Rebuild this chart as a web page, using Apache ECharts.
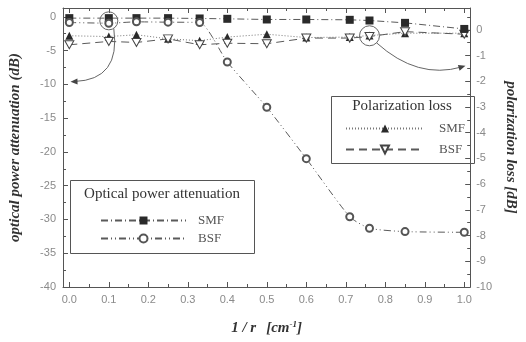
<!DOCTYPE html>
<html><head><meta charset="utf-8">
<script src="https://cdn.jsdelivr.net/npm/echarts@6/dist/echarts.min.js"></script>
<style>html,body{margin:0;padding:0;background:#fff}#c{width:526px;height:342px}</style>
</head><body><div id="c"></div>
<script>
// 1/r [cm^-1]
const xValues   = [0, 0.1, 0.17, 0.25, 0.33, 0.4, 0.5, 0.6, 0.71, 0.76, 0.85, 1.0];
// optical power attenuation (dB), left axis
const opticalSMF = [-0.2, -0.2, -0.2, -0.2, -0.25, -0.3, -0.4, -0.4, -0.45, -0.55, -0.9, -1.8];
const opticalBSF = [-0.85, -0.95, -0.75, -0.8, -0.85, -6.7, -13.4, -21.0, -29.6, -31.3, -31.8, -31.9];
// polarization loss (dB), right axis
const polSMF = [-0.23, -0.26, -0.19, -0.35, -0.42, -0.28, -0.17, -0.3, -0.28, -0.22, -0.13, -0.13];
const polBSF = [-0.58, -0.45, -0.49, -0.35, -0.58, -0.52, -0.54, -0.32, -0.32, -0.26, -0.07, -0.17];
// callouts: circled point -> arrow to axis
const callout1 = {center: [0.1, -0.6], tip: [0.003, -9.6], yAxis: 0};
const callout2 = {center: [0.76, -0.23], tip: [1.003, -1.4], yAxis: 1};

const pair = arr => xValues.map((x, i) => [x, arr[i]]);
const ink = '#444', lineCol = '#5a5a5a', lab = '#8a8a8a';
const serif = '"Liberation Serif", "DejaVu Serif", serif';
const sans = '"Liberation Sans", Arial, sans-serif';
const isMult = (v, step) => Math.abs(v / step - Math.round(v / step)) < 1e-6;

const axisCommon = {
  axisLine: {show: true, onZero: false, lineStyle: {color: '#555', width: 1}},
  axisTick: {show: true, inside: true, length: 5, lineStyle: {color: '#555'}},
  minorTick: {show: true, splitNumber: 2, length: 3, lineStyle: {color: '#555'}},
  splitLine: {show: false}
};
const nameStyle = {fontFamily: serif, fontWeight: 'bold', fontStyle: 'italic', fontSize: 15, color: '#333'};
const downTri = 'path://M0,0L10,0L5,9Z';

const chart = echarts.init(document.getElementById('c'), null, {renderer: 'canvas'});
const option = {
  animation: false,
  backgroundColor: '#fff',
  grid: {left: 56, right: 44, top: 8, bottom: 55, show: false},
  xAxis: [
    Object.assign({}, axisCommon, {
      type: 'value', min: -0.016, max: 1.015, splitNumber: 10, minInterval: 0.1, maxInterval: 0.1,
      axisLabel: {color: lab, fontSize: 11, fontFamily: sans, margin: 7,
        formatter: v => (v > -1e-6 && isMult(v, 0.1)) ? v.toFixed(1) : ''},
      name: '{a|1 / r}   {a|[cm}{s|-1}{a|]}', nameLocation: 'middle', nameGap: 33,
      nameTextStyle: {rich: {
        a: Object.assign({}, nameStyle, {fontSize: 15}),
        s: Object.assign({}, nameStyle, {fontSize: 9, verticalAlign: 'top', padding: [0, 0, 8, 0]})
      }}
    }),
    Object.assign({}, axisCommon, {
      type: 'value', position: 'top', min: -0.016, max: 1.015, splitNumber: 10, minInterval: 0.1, maxInterval: 0.1,
      axisLabel: {show: false}
    })
  ],
  yAxis: [
    Object.assign({}, axisCommon, {
      type: 'value', position: 'left', min: -40, max: 1.3, interval: 5,
      axisLabel: {color: lab, fontSize: 11, fontFamily: sans, margin: 7,
        formatter: v => isMult(v, 5) ? String(v) : ''},
      name: 'optical power attenuation (dB)', nameLocation: 'middle', nameGap: 40, nameTextStyle: nameStyle
    }),
    Object.assign({}, axisCommon, {
      type: 'value', position: 'right', min: -10, max: 0.85, interval: 1,
      axisLabel: {color: lab, fontSize: 11, fontFamily: sans, margin: 6,
        formatter: v => isMult(v, 1) ? String(v) : ''},
      name: 'polarization loss [dB]', nameLocation: 'middle', nameGap: 30, nameRotate: -90, nameTextStyle: nameStyle
    })
  ],
  legend: [
    {
      left: 95, top: 209, orient: 'vertical', itemWidth: 85, itemHeight: 10, itemGap: 5,
      data: ['Optical SMF', 'Optical BSF'], selectedMode: false,
      formatter: n => n.replace('Optical ', ''),
      textStyle: {fontFamily: serif, fontSize: 13, color: '#555', padding: [0, 0, 0, 7], lineHeight: 13}
    },
    {
      left: 340, top: 117, orient: 'vertical', itemWidth: 78, itemHeight: 10, itemGap: 8,
      data: ['Polarization SMF', 'Polarization BSF'], selectedMode: false,
      formatter: n => n.replace('Polarization ', ''),
      textStyle: {fontFamily: serif, fontSize: 13, color: '#555', padding: [0, 0, 0, 10], lineHeight: 13}
    }
  ],
  series: [
    {
      name: 'Polarization SMF', type: 'line', xAxisIndex: 0, yAxisIndex: 1, data: pair(polSMF),
      symbol: 'triangle', symbolSize: 8, itemStyle: {color: '#2a2a2a'},
      lineStyle: {color: '#777', width: 1, type: [1, 2]}
    },
    {
      name: 'Polarization BSF', type: 'line', xAxisIndex: 0, yAxisIndex: 1, data: pair(polBSF),
      symbol: downTri, symbolSize: [9, 8], itemStyle: {color: '#fff', borderColor: ink, borderWidth: 1},
      lineStyle: {color: lineCol, width: 1, type: [8, 5]}
    },
    {
      name: 'Optical SMF', type: 'line', xAxisIndex: 0, yAxisIndex: 0, data: pair(opticalSMF),
      symbol: 'rect', symbolSize: 8, itemStyle: {color: '#2a2a2a'},
      lineStyle: {color: lineCol, width: 1, type: [7, 3, 1, 3]}
    },
    {
      name: 'Optical BSF', type: 'line', xAxisIndex: 0, yAxisIndex: 0, data: pair(opticalBSF),
      symbol: 'emptyCircle', symbolSize: 7, smooth: 0.2, itemStyle: {color: '#555', borderWidth: 1},
      lineStyle: {color: lineCol, width: 1, type: [7, 3, 1, 3, 1, 3]}
    }
  ]
};
chart.setOption(option);

// annotations & legend boxes
function arrow(c, r, offStart, ctrlOff) {
  const P = chart.convertToPixel({xAxisIndex: 0, yAxisIndex: c.yAxis}, c.center);
  const T = chart.convertToPixel({xAxisIndex: 0, yAxisIndex: c.yAxis}, c.tip);
  const s = [P[0] + offStart[0], P[1] + offStart[1]];
  const cp = [ctrlOff[0], ctrlOff[1]];
  const dx = T[0] - cp[0], dy = T[1] - cp[1], L = Math.hypot(dx, dy);
  const ux = dx / L, uy = dy / L, hl = 7, hw = 3;
  const bx = T[0] - ux * hl, by = T[1] - uy * hl;
  return [
    {type: 'circle', shape: {cx: P[0], cy: P[1], r: r}, style: {fill: 'none', stroke: '#666', lineWidth: 1}, z: 100},
    {type: 'bezierCurve', shape: {x1: s[0], y1: s[1], x2: T[0] - ux * 4, y2: T[1] - uy * 4, cpx1: cp[0], cpy1: cp[1]},
      style: {fill: 'none', stroke: '#666', lineWidth: 1}, z: 100},
    {type: 'polygon', shape: {points: [[T[0], T[1]], [bx - uy * hw, by + ux * hw], [bx + uy * hw, by - ux * hw]]},
      style: {fill: '#444'}, z: 100}
  ];
}
const P1 = chart.convertToPixel({xAxisIndex: 0, yAxisIndex: 0}, callout1.center);
const P2 = chart.convertToPixel({xAxisIndex: 0, yAxisIndex: 1}, callout2.center);
const graphics = [].concat(
  arrow(callout1, 9, [5, 8], [P1[0] + 12, P1[1] + 59]),
  arrow(callout2, 10, [7, 7], [P2[0] + 48, P2[1] + 44]),
  [
    {type: 'rect', shape: {x: 70.5, y: 180.5, width: 184, height: 73}, style: {fill: 'none', stroke: '#555', lineWidth: 1}, z: 50},
    {type: 'text', x: 162, y: 194, style: {text: 'Optical power attenuation', font: '15px ' + serif, fill: '#333', align: 'center', verticalAlign: 'middle'}, z: 50},
    {type: 'rect', shape: {x: 331.5, y: 96.5, width: 143, height: 67}, style: {fill: 'none', stroke: '#555', lineWidth: 1}, z: 50},
    {type: 'text', x: 402, y: 106, style: {text: 'Polarization loss', font: '15px ' + serif, fill: '#333', align: 'center', verticalAlign: 'middle'}, z: 50}
  ]
);
chart.setOption({graphic: graphics});
</script></body></html>
